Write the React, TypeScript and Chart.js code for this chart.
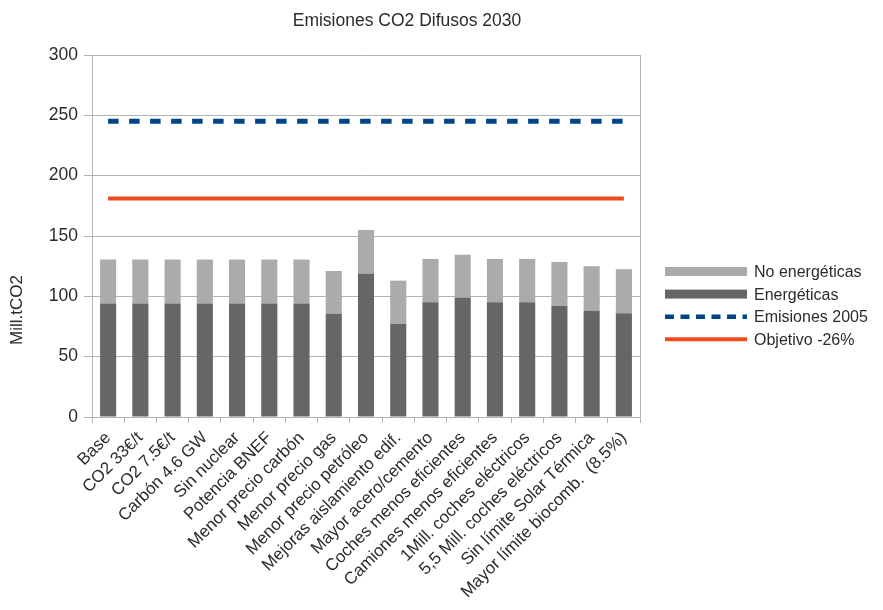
import { useEffect, useRef } from 'react';
import { Chart, registerables } from 'chart.js';

Chart.register(...registerables);

const categories = [
  'Base',
  'CO2 33€/t',
  'CO2 7.5€/t',
  'Carbón 4.6 GW',
  'Sin nuclear',
  'Potencia BNEF',
  'Menor precio carbón',
  'Menor precio gas',
  'Menor precio petróleo',
  'Mejoras aislamiento edif.',
  'Mayor acero/cemento',
  'Coches menos eficientes',
  'Camiones menos eficientes',
  '1Mill. coches eléctricos',
  '5,5 Mill. coches eléctricos',
  'Sin límite Solar Térmica',
  'Mayor límite biocomb.  (8.5%)',
];

const energeticas = [94, 94, 94, 94, 94, 94, 94, 85.5, 119, 77, 95, 99, 95, 95, 92, 88, 86];
const noEnergeticas = [36.5, 36.5, 36.5, 36.5, 36.5, 36.5, 36.5, 35.5, 36, 36, 36, 35.5, 36, 36, 36.5, 37, 36.5];
const emisiones2005 = [245, 245, 245, 245, 245, 245, 245, 245, 245, 245, 245, 245, 245, 245, 245, 245, 245];
const objetivo26 = [181, 181, 181, 181, 181, 181, 181, 181, 181, 181, 181, 181, 181, 181, 181, 181, 181];

const titleText = 'Emisiones CO2 Difusos 2030';
const yAxisTitle = 'Mill.tCO2';
const yMin = 0;
const yMax = 300;
const yStep = 50;

const FONT = '"Liberation Sans", Arial, sans-serif';
const TEXT = '#2b2b2b';
const GRID = '#b3b3b3';
const LIGHT = '#ababab';
const DARK = '#666666';
const BLUE = '#004586';
const RED = '#ee4a1e';

const decorPlugin = {
  id: 'decor',
  afterDraw(chart: any) {
    const { ctx, chartArea } = chart;
    ctx.save();
    // right border of plot area
    ctx.strokeStyle = GRID;
    ctx.lineWidth = 1;
    ctx.beginPath();
    ctx.moveTo(Math.round(chartArea.right) + 0.5, chartArea.top);
    ctx.lineTo(Math.round(chartArea.right) + 0.5, chartArea.bottom);
    ctx.stroke();

    // title
    ctx.fillStyle = TEXT;
    ctx.font = `17.5px ${FONT}`;
    ctx.textAlign = 'center';
    ctx.textBaseline = 'middle';
    ctx.fillText(titleText, 407, 21);

    // y axis title
    ctx.save();
    ctx.translate(17, 310);
    ctx.rotate(-Math.PI / 2);
    ctx.font = `17px ${FONT}`;
    ctx.fillText(yAxisTitle, 0, 0);
    ctx.restore();

    // legend
    const ds = chart.data.datasets;
    const order = [1, 0, 2, 3];
    const x0 = chartArea.right + 25;
    const boxW = 82;
    let y = 271.5;
    ctx.font = `16px ${FONT}`;
    ctx.textAlign = 'left';
    for (const i of order) {
      const d = ds[i];
      if (d.type === 'bar') {
        ctx.fillStyle = d.backgroundColor;
        ctx.fillRect(x0, y - 4.5, boxW, 9);
      } else {
        ctx.strokeStyle = d.borderColor;
        ctx.lineWidth = d.borderDash ? 4.5 : 4;
        ctx.setLineDash(d.borderDash ? [9, 6.5] : []);
        ctx.beginPath();
        ctx.moveTo(x0, y);
        ctx.lineTo(x0 + boxW, y);
        ctx.stroke();
        ctx.setLineDash([]);
      }
      ctx.fillStyle = TEXT;
      ctx.fillText(d.label, x0 + boxW + 7, y + 1);
      y += 22.6;
    }
    ctx.restore();
  },
};

export default function App() {
  const ref = useRef<HTMLCanvasElement>(null);

  useEffect(() => {
    const chart = new Chart(ref.current as HTMLCanvasElement, {
      type: 'bar',
      data: {
        labels: categories,
        datasets: [
          {
            type: 'bar',
            label: 'Energéticas',
            data: energeticas,
            backgroundColor: DARK,
            stack: 'bars',
            barPercentage: 0.5,
            categoryPercentage: 1,
          },
          {
            type: 'bar',
            label: 'No energéticas',
            data: noEnergeticas,
            backgroundColor: LIGHT,
            stack: 'bars',
            barPercentage: 0.5,
            categoryPercentage: 1,
          },
          {
            type: 'line',
            label: 'Emisiones 2005',
            data: emisiones2005,
            borderColor: BLUE,
            backgroundColor: BLUE,
            borderWidth: 5,
            borderDash: [10.5, 10.5],
            borderCapStyle: 'butt',
            pointRadius: 0,
            fill: false,
            stack: 'l1',
          } as any,
          {
            type: 'line',
            label: 'Objetivo -26%',
            data: objetivo26,
            borderColor: RED,
            backgroundColor: RED,
            borderWidth: 4,
            borderCapStyle: 'butt',
            pointRadius: 0,
            fill: false,
            stack: 'l2',
          } as any,
        ],
      },
      options: {
        animation: false,
        responsive: true,
        maintainAspectRatio: false,
        layout: { padding: { top: 55, right: 243, left: 0, bottom: 0 } },
        plugins: {
          legend: { display: false },
          title: { display: false },
          tooltip: { enabled: false },
        },
        scales: {
          x: {
            stacked: true,
            offset: true,
            grid: {
              display: true,
              drawOnChartArea: false,
              drawTicks: true,
              tickLength: 6,
              color: GRID,
              offset: true,
            },
            border: { display: true, color: GRID },
            ticks: {
              autoSkip: false,
              minRotation: 45,
              maxRotation: 45,
              color: TEXT,
              font: { family: FONT, size: 17 },
              padding: 5,
            },
            afterFit: (scale: any) => {
              scale.height = 193;
            },
          },
          y: {
            stacked: true,
            min: yMin,
            max: yMax,
            ticks: {
              stepSize: yStep,
              color: TEXT,
              font: { family: FONT, size: 17.5 },
              padding: 6,
            },
            grid: { color: GRID, tickLength: 8, drawTicks: true },
            border: { display: true, color: GRID },
            title: { display: false },
            afterFit: (scale: any) => {
              scale.width = 92;
            },
          },
        },
      },
      plugins: [decorPlugin],
    });
    return () => chart.destroy();
  }, []);

  return (
    <div style={{ position: 'absolute', left: 0, top: 0, width: 883, height: 610, background: '#ffffff' }}>
      <canvas ref={ref} />
    </div>
  );
}
